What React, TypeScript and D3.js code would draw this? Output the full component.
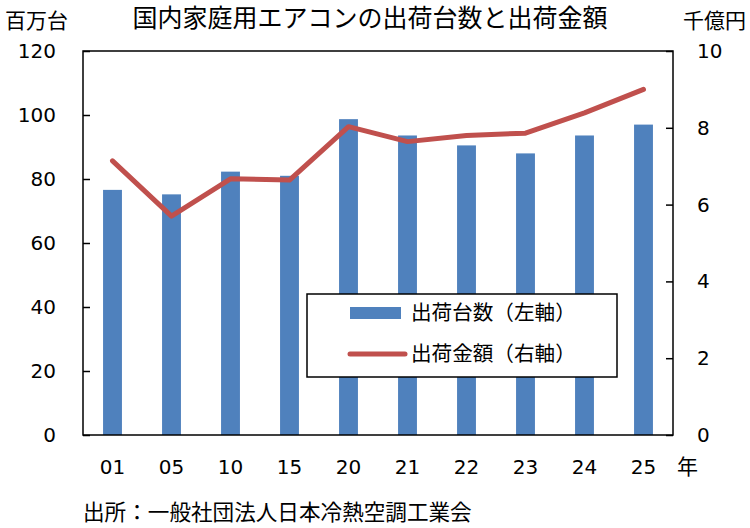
import * as d3 from "d3"
import { useEffect, useRef } from "react"

const W = 750
const H = 528
const margin = { top: 51, right: 77, bottom: 93, left: 83 }
const FONT = "'DejaVu Sans', 'Noto Sans CJK JP', sans-serif"
const BAR_COLOR = "#4F81BD"
const LINE_COLOR = "#C0504D"

const years = ["01", "05", "10", "15", "20", "21", "22", "23", "24", "25"]
// 出荷台数 (百万台)
const units = [76.6, 75.2, 82.3, 81.0, 98.7, 93.6, 90.5, 88.0, 93.6, 97.0]
// 出荷金額 (千億円)
const amounts = [7.14, 5.7, 6.67, 6.64, 8.03, 7.64, 7.8, 7.86, 8.39, 9.0]
const leftTicks = [0, 20, 40, 60, 80, 100, 120]
const rightTicks = [0, 2, 4, 6, 8, 10]

export default function App() {
  const svgRef = useRef<SVGSVGElement | null>(null)

  useEffect(() => {
    if (!svgRef.current) return
    const svg = d3.select(svgRef.current)
    svg.selectAll("*").remove()

    const x0 = margin.left
    const x1 = W - margin.right
    const y0 = H - margin.bottom
    const y1 = margin.top

    const x = d3.scaleBand().domain(years).range([x0, x1]).paddingInner(0.68).paddingOuter(0.34)
    const yL = d3.scaleLinear().domain([0, 120]).range([y0, y1])
    const yR = d3.scaleLinear().domain([0, 10]).range([y0, y1])

    // Bars
    svg
      .append("g")
      .selectAll("rect")
      .data(units)
      .enter()
      .append("rect")
      .attr("x", (_, i) => x(years[i])!)
      .attr("y", (d) => yL(d))
      .attr("width", x.bandwidth())
      .attr("height", (d) => y0 - yL(d))
      .attr("fill", BAR_COLOR)

    // Line
    const line = d3
      .line<number>()
      .x((_, i) => x(years[i])! + x.bandwidth() / 2)
      .y((d) => yR(d))
    svg
      .append("path")
      .datum(amounts)
      .attr("d", line)
      .attr("fill", "none")
      .attr("stroke", LINE_COLOR)
      .attr("stroke-width", 5)
      .attr("stroke-linejoin", "round")
      .attr("stroke-linecap", "round")

    // Plot frame
    svg
      .append("rect")
      .attr("x", x0)
      .attr("y", y1)
      .attr("width", x1 - x0)
      .attr("height", y0 - y1)
      .attr("fill", "none")
      .attr("stroke", "#000")
      .attr("stroke-width", 1.5)

    // Left axis
    const gl = svg
      .append("g")
      .attr("transform", `translate(${x0},0)`)
      .call(d3.axisLeft(yL).tickValues(leftTicks).tickSizeInner(-7).tickSizeOuter(0).tickPadding(27))
    gl.select(".domain").remove()
    gl.selectAll("line").attr("stroke", "#000").attr("stroke-width", 1.5)
    gl.selectAll("text").style("font-size", "20px").style("font-family", FONT).attr("fill", "#000")

    // Right axis
    const gr = svg
      .append("g")
      .attr("transform", `translate(${x1},0)`)
      .call(d3.axisRight(yR).tickValues(rightTicks).tickSizeInner(-7).tickSizeOuter(0).tickPadding(24))
    gr.select(".domain").remove()
    gr.selectAll("line").attr("stroke", "#000").attr("stroke-width", 1.5)
    gr.selectAll("text").style("font-size", "20px").style("font-family", FONT).attr("fill", "#000")

    // X labels
    svg
      .append("g")
      .selectAll("text")
      .data(years)
      .enter()
      .append("text")
      .attr("x", (d) => x(d)! + x.bandwidth() / 2)
      .attr("y", 467)
      .attr("dy", "0.35em")
      .attr("text-anchor", "middle")
      .style("font-size", "20px")
      .style("font-family", FONT)
      .text((d) => d)

    const addText = (t: string, xx: number, yy: number, size: number, anchor = "start") =>
      svg
        .append("text")
        .attr("x", xx)
        .attr("y", yy)
        .attr("dy", "0.35em")
        .attr("text-anchor", anchor)
        .style("font-size", `${size}px`)
        .style("font-family", FONT)
        .attr("fill", "#000")
        .text(t)

    addText("年", 677, 467, 21)
    addText("国内家庭用エアコンの出荷台数と出荷金額", 370, 18, 25, "middle")
    addText("百万台", 5, 21, 21)
    addText("千億円", 683, 21, 21)
    addText("出所：一般社団法人日本冷熱空調工業会", 83, 512, 21.6)

    // Legend
    const lg = svg.append("g")
    lg.append("rect")
      .attr("x", 307)
      .attr("y", 294)
      .attr("width", 310)
      .attr("height", 83)
      .attr("fill", "#fff")
      .attr("stroke", "#000")
      .attr("stroke-width", 1.5)
    lg.append("rect").attr("x", 350).attr("y", 307).attr("width", 51).attr("height", 12).attr("fill", BAR_COLOR)
    lg.append("line")
      .attr("x1", 350)
      .attr("x2", 405)
      .attr("y1", 354)
      .attr("y2", 354)
      .attr("stroke", LINE_COLOR)
      .attr("stroke-width", 5)
      .attr("stroke-linecap", "round")
    addText("出荷台数（左軸）", 411, 313, 20.6)
    addText("出荷金額（右軸）", 411, 354, 20.6)
  }, [])

  return (
    <svg
      ref={svgRef}
      width={W}
      height={H}
      style={{ position: "absolute", left: 0, top: 0, background: "#fff" }}
      xmlns="http://www.w3.org/2000/svg"
    />
  )
}
